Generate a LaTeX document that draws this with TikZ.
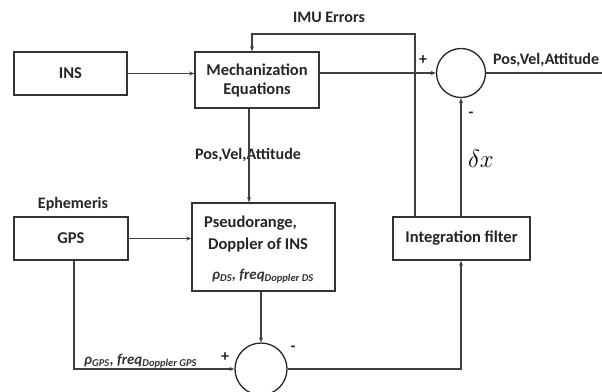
\documentclass[tikz,border=0pt]{standalone}
\usepackage{fontspec}
\setmainfont{Carlito}
\usetikzlibrary{arrows.meta}
\begin{document}
\begin{tikzpicture}[x=1pt,y=-1pt,
  box/.style={draw=black!80,line width=1.6pt,rectangle,inner sep=0pt,font=\bfseries\fontsize{16.5}{19}\selectfont,text=black!85,align=center},
  sumc/.style={draw=black!85,line width=1.3pt,circle,inner sep=0pt},
  wire/.style={draw=black!75,line width=1.1pt},
  arr/.style={wire,-{Stealth[length=5pt,width=4pt]}},
  lab/.style={font=\bfseries\fontsize{16}{18}\selectfont,text=black!85,inner sep=0pt},
  sig/.style={font=\bfseries\fontsize{16}{18}\selectfont,text=black!85,inner sep=0pt},
  sub/.style={font=\bfseries\itshape\fontsize{15}{17}\selectfont,text=black!80,inner sep=0pt}]
\useasboundingbox[fill=white] (0,0) rectangle (602,391);
% nodes
\node[box,minimum width=113pt,minimum height=43pt] (ins) at (70.5,73.5) {INS};
\node[box,minimum width=124pt,minimum height=56pt] (mech) at (257,80) {Mechanization\\Equations};
\node[sumc,minimum size=49pt] (sum1) at (461,73) {};
\node[box,minimum width=143pt,minimum height=88pt] (pseudo) at (263.5,247) {};
\node[box,minimum width=114pt,minimum height=43pt] (gps) at (71,238.5) {GPS};
\node[box,minimum width=137pt,minimum height=43pt] (filt) at (461.5,238.5) {Integration filter};
\node[sumc,minimum size=52pt] (sum2) at (261,369) {};
% text inside pseudo box
\node[lab,font=\bfseries\fontsize{16.5}{19}\selectfont,anchor=west] (ps1) at (204,223) {Pseudorange,};
\node[lab,font=\bfseries\fontsize{16.5}{19}\selectfont,anchor=west] (ps2) at (208,245) {Doppler of INS};
\node[sub] (rhods) at (263,276) {ρ\textsubscript{DS}, freq\textsubscript{Doppler DS}};
% labels
\node[lab] (imu) at (329,17) {IMU Errors};
\node[sig,anchor=west] (pva1) at (493,60) {Pos,Vel,Attitude};
\node[sig] (pva2) at (248,155) {Pos,Vel,Attitude};
\node[lab] (eph) at (73,204) {Ephemeris};
\node[sub,anchor=west] (rhogps) at (84,361) {ρ\textsubscript{GPS}, freq\textsubscript{Doppler GPS}};
\node[lab] (p1) at (423,60) {+};
\node[lab] (m1) at (471,115) {-};
\node[lab] (p2) at (225,357) {+};
\node[lab] (m2) at (293,349) {-};
\node[inner sep=0pt,font=\fontsize{24}{26}\selectfont] (dx) at (481,159) {$\delta x$};
% coordinates
\coordinate (out) at (602,73);
\coordinate (fbtop) at (415,34);
\coordinate (fbx) at (252,34);
\coordinate (mx) at (249,0);
\coordinate (gx) at (74,0);
% connectors
\draw[arr] (ins.east) -- (ins.east -| mech.west);
\draw[arr] (sum1.west -| mech.east) -- (sum1.west);
\draw[wire] (sum1.east) -- (out);
\draw[arr] (filt.north -| fbtop) -- (fbtop) -- (fbx) -- (fbx |- mech.north);
\draw[arr] (filt.north -| sum1.south) -- (sum1.south);
\draw[arr] (mech.south -| mx) -- (pseudo.north -| mx);
\draw[arr] (gps.east) -- (gps.east -| pseudo.west);
\draw[arr] (pseudo.south -| sum2.north) -- (sum2.north);
\draw[arr] (gps.south -| gx) |- (sum2.west);
\draw[arr] (sum2.east) -| (filt.south -| sum1.south);
\end{tikzpicture}
\end{document}
